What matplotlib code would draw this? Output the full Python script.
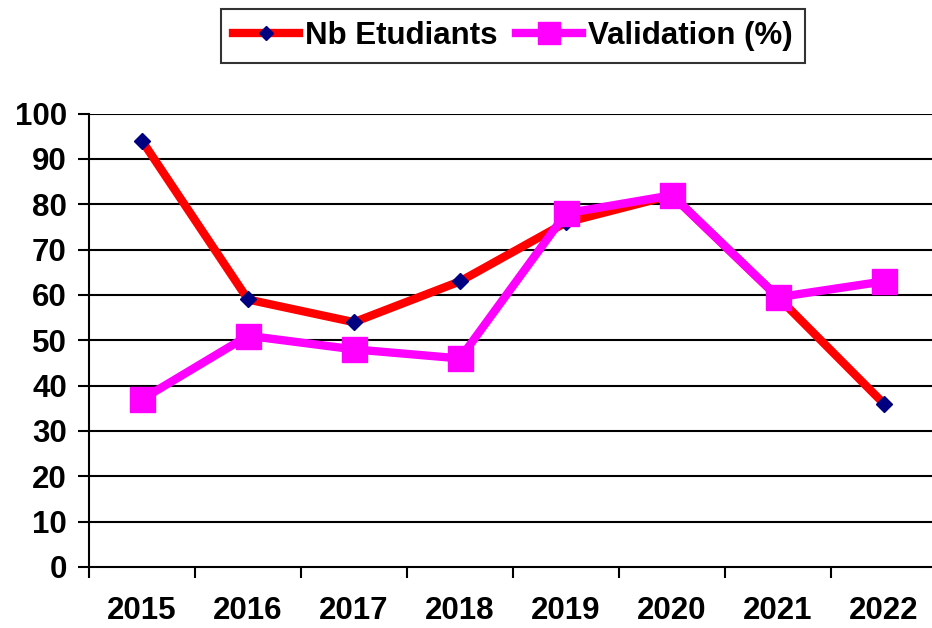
import matplotlib
matplotlib.use("Agg")
import matplotlib.pyplot as plt
import numpy as np

years = ["2015", "2016", "2017", "2018", "2019", "2020", "2021", "2022"]
nb_etudiants = [94, 59, 54, 63, 76, 82, 59.5, 36]
validation = [37, 51, 48, 46, 78, 82, 59.5, 63]
y_ticks = [0, 10, 20, 30, 40, 50, 60, 70, 80, 90, 100]

plt.rcParams['font.family'] = ['Liberation Sans', 'DejaVu Sans']
plt.rcParams['font.weight'] = 'bold'
FS = 22.5

fig = plt.figure(figsize=(9.32, 6.28), dpi=100)
ax = fig.add_axes([89/932, 1-567/628, 848/932, (567-113.6)/628])

x = np.arange(len(years))
ax.plot(x, nb_etudiants, color='#ff0000', lw=6, marker='D', ms=8,
        markerfacecolor='#000080', markeredgecolor='#000080', label='Nb Etudiants',
        zorder=3, solid_joinstyle='miter')
ax.plot(x, validation, color='#ff00ff', lw=6, marker='s', ms=18,
        markerfacecolor='#ff00ff', markeredgecolor='#ff00ff', label='Validation (%)',
        zorder=4, solid_joinstyle='miter')

ax.set_ylim(0, 100)
ax.set_xlim(-0.5, len(years) - 0.5)
ax.set_yticks(y_ticks)
ax.set_yticklabels([str(v) for v in y_ticks], fontsize=FS, fontweight='bold')
for v in y_ticks[1:]:
    ax.axhline(v, color='black', lw=1.5, zorder=1)

ax.set_xticks(np.arange(-0.5, len(years), 1.0))
ax.set_xticklabels([])
ax.set_xticks(x, minor=True)
ax.set_xticklabels(years, minor=True, fontsize=FS, fontweight='bold')
ax.tick_params(axis='x', which='major', direction='out', length=8, width=1.5, color='black')
ax.tick_params(axis='x', which='minor', length=0, pad=21)
ax.tick_params(axis='y', direction='out', length=8, width=1.5, pad=8)

for s in ['top', 'right']:
    ax.spines[s].set_visible(False)
for s in ['left', 'bottom']:
    ax.spines[s].set_linewidth(1.5)
    ax.spines[s].set_color('black')

leg = ax.legend(loc='lower center', bbox_to_anchor=(0.5, 1.112), ncol=2, frameon=True,
                fancybox=False, edgecolor='black', handlelength=2.1,
                handletextpad=0.2, columnspacing=0.6, borderpad=0.38,
                borderaxespad=0.0,
                prop={'weight': 'bold', 'size': FS}, markerscale=0.9)
leg.get_frame().set_linewidth(1.5)

fig.savefig("out.png", dpi=100)
